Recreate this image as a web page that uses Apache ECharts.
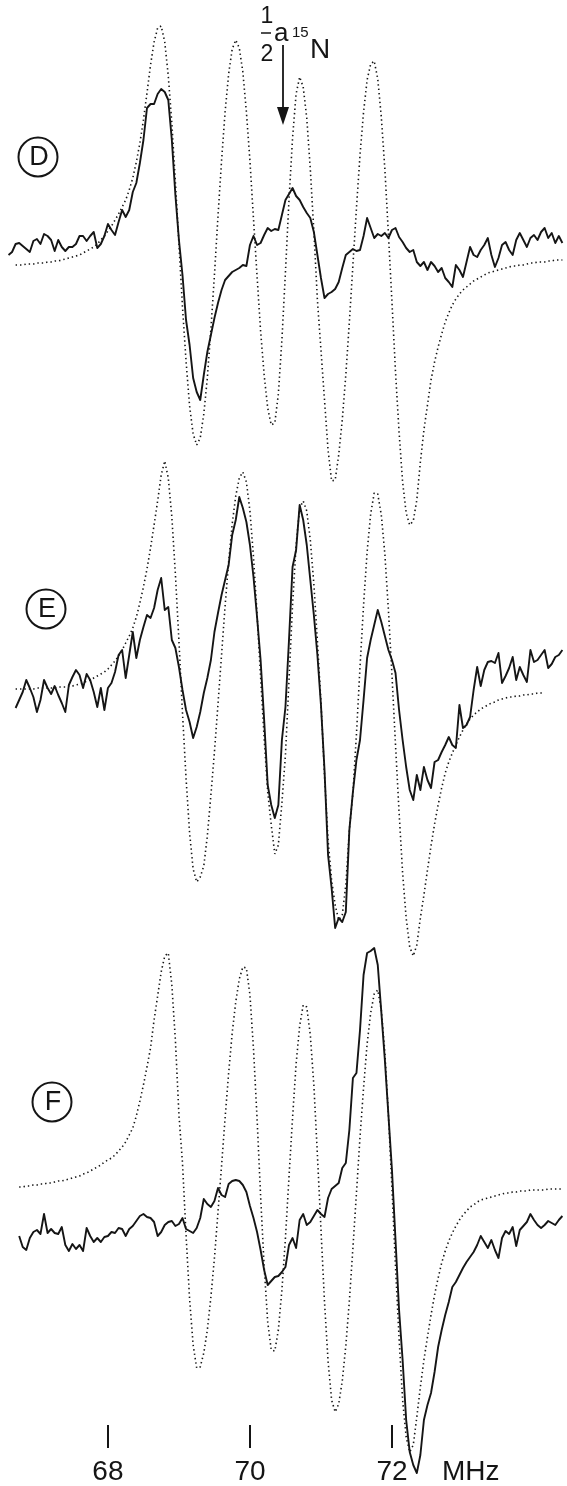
<!DOCTYPE html>
<html>
<head>
<meta charset="utf-8">
<title>ENDOR spectra D, E, F</title>
<script src="https://cdn.jsdelivr.net/npm/echarts@6.0.0/dist/echarts.min.js"></script>
<style>
html, body { margin: 0; padding: 0; background: #fff; }
#my-chart { width: 567px; height: 1486px; }
</style>
</head>
<body>
<div id="my-chart"></div>
<script>
// frequency grid in MHz (0.05 MHz steps)
var freq = [
  66.6, 66.65, 66.7, 66.75, 66.8, 66.85, 66.9, 66.95, 67, 67.05,
  67.1, 67.15, 67.2, 67.25, 67.3, 67.35, 67.4, 67.45, 67.5, 67.55,
  67.6, 67.65, 67.7, 67.75, 67.8, 67.85, 67.9, 67.95, 68, 68.05,
  68.1, 68.15, 68.2, 68.25, 68.3, 68.35, 68.4, 68.45, 68.5, 68.55,
  68.6, 68.65, 68.7, 68.75, 68.8, 68.85, 68.9, 68.95, 69, 69.05,
  69.1, 69.15, 69.2, 69.25, 69.3, 69.35, 69.4, 69.45, 69.5, 69.55,
  69.6, 69.65, 69.7, 69.75, 69.8, 69.85, 69.9, 69.95, 70, 70.05,
  70.1, 70.15, 70.2, 70.25, 70.3, 70.35, 70.4, 70.45, 70.5, 70.55,
  70.6, 70.65, 70.7, 70.75, 70.8, 70.85, 70.9, 70.95, 71, 71.05,
  71.1, 71.15, 71.2, 71.25, 71.3, 71.35, 71.4, 71.45, 71.5, 71.55,
  71.6, 71.65, 71.7, 71.75, 71.8, 71.85, 71.9, 71.95, 72, 72.05,
  72.1, 72.15, 72.2, 72.25, 72.3, 72.35, 72.4, 72.45, 72.5, 72.55,
  72.6, 72.65, 72.7, 72.75, 72.8, 72.85, 72.9, 72.95, 73, 73.05,
  73.1, 73.15, 73.2, 73.25, 73.3, 73.35, 73.4, 73.45, 73.5, 73.55,
  73.6, 73.65, 73.7, 73.75, 73.8, 73.85, 73.9, 73.95, 74, 74.05,
  74.1, 74.15, 74.2, 74.25, 74.3, 74.35, 74.4
];

// panel D: measured (solid) and simulated (dotted), arbitrary units
var solidD = [
  10, 13, 21, 22, 19, 16, 13, 24, 26, 21,
  31, 29, 25, 14, 25, 18, 14, 18, 18, 21,
  29, 29, 24, 29, 33, 17, 21, 29, 41, 35,
  30, 43, 55, 48, 55, 73, 82, 102, 125, 157,
  161, 161, 171, 176, 173, 165, 125, 70, 25, -10,
  -55, -80, -113, -127, -135, -110, -87, -70, -53, -38,
  -25, -15, -11, -7, -5, -3, 0, -1, 20, 29,
  20, 22, 30, 37, 34, 36, 35, 50, 65, 71,
  77, 69, 65, 58, 52, 47, 33, 10, -13, -33,
  -29, -27, -24, -17, -3, 10, 13, 16, 14, 15,
  29, 47, 37, 27, 31, 29, 32, 27, 35, 37,
  28, 23, 17, 13, 15, 3, -1, 3, -5, 3,
  -1, -7, -3, -13, -17, -22, 0, -5, -12, 3,
  18, 10, 8, 15, 20, 27, 10, -2, 7, 20,
  23, 15, 10, 25, 32, 25, 18, 27, 30, 25,
  33, 37, 27, 32, 22, 29, 22
];
var dottedD = [
  null, null, 0, 0, 0, 1, 1, 1, 2, 2,
  2, 3, 3, 4, 4, 5, 6, 7, 8, 9,
  10, 12, 14, 16, 18, 21, 25, 29, 34, 39,
  45, 51, 58, 65, 75, 87, 103, 122, 145, 172,
  200, 223, 237, 239, 223, 189, 142, 83, 21, -42,
  -96, -141, -169, -180, -173, -149, -113, -64, -10, 49,
  104, 153, 191, 216, 225, 217, 193, 153, 104, 46,
  -11, -66, -110, -143, -160, -158, -129, -75, -7, 65,
  127, 171, 188, 178, 147, 96, 34, -35, -85, -135,
  -185, -216, -215, -190, -155, -110, -57, 0, 57, 110,
  153, 185, 201, 204, 186, 148, 96, 31, -37, -107,
  -167, -217, -248, -260, -256, -235, -197, -165, -140, -115,
  -97, -82, -69, -57, -48, -40, -34, -29, -25, -22,
  -19, -16, -14, -12, -10, -8, -7, -6, -5, -4,
  -3, -2, -1, -1, 0, 0, 1, 2, 2, 3,
  3, 3, 4, 4, 5, 5, 5
];

// panel E
var solidE = [
  null, null, -18, -10, -2, 10, 2, -7, -22, -10,
  10, 2, -4, 4, -5, -13, -22, 5, 13, 20,
  15, 2, 16, 10, -2, -17, 2, -20, 2, 7,
  18, 35, 40, 12, 35, 58, 32, 50, 63, 75,
  72, 82, 100, 112, 80, 83, 50, 42, 23, 0,
  -20, -32, -48, -37, -22, -3, 12, 30, 58, 77,
  95, 110, 125, 155, 170, 193, 182, 168, 145, 113,
  73, 30, -30, -95, -115, -128, -115, -50, -17, 50,
  123, 140, 185, 170, 145, 110, 75, 35, -15, -80,
  -165, -198, -238, -228, -232, -222, -140, -102, -70, -50,
  -10, 32, 50, 65, 80, 68, 54, 40, 30, 17,
  -20, -50, -77, -100, -110, -85, -100, -77, -90, -98,
  -72, -70, -62, -55, -47, -55, -58, -15, -38, -35,
  -27, 0, 23, 4, 20, 28, 29, 27, 37, 7,
  14, 22, 33, 10, 23, 15, 8, 40, 28, 30,
  35, 40, 22, 26, 33, 35, 40
];
var dottedE = [
  null, null, 1, 1, 1, 1, 1, 1, 2, 2,
  2, 2, 2, 2, 3, 3, 3, 4, 4, 5,
  6, 7, 9, 10, 12, 14, 16, 18, 21, 25,
  29, 34, 40, 47, 54, 62, 73, 87, 103, 121,
  142, 165, 189, 215, 229, 212, 173, 116, 49, -23,
  -88, -143, -179, -192, -187, -176, -146, -105, -62, -14,
  35, 84, 128, 166, 194, 212, 218, 208, 179, 133,
  76, 13, -48, -102, -135, -164, -155, -113, -65, 10,
  85, 145, 182, 189, 179, 150, 106, 49, -12, -85,
  -150, -190, -215, -230, -225, -195, -140, -103, -44, 23,
  85, 138, 176, 197, 196, 175, 136, 80, 15, -55,
  -122, -183, -228, -257, -266, -255, -228, -205, -180, -156,
  -134, -115, -98, -83, -72, -63, -55, -47, -40, -34,
  -29, -25, -22, -19, -17, -15, -13, -12, -10, -9,
  -8, -7, -7, -6, -6, -5, -5, -4, -4, -3,
  -3, -2, null, null, null, null, null
];

// panel F
var solidF = [
  null, null, null, -56, -67, -70, -58, -52, -50, -54,
  -34, -53, -49, -53, -54, -47, -65, -71, -64, -69,
  -65, -71, -48, -56, -62, -58, -62, -57, -56, -52,
  -53, -48, -49, -56, -49, -46, -41, -36, -34, -37,
  -38, -42, -56, -52, -45, -42, -41, -46, -44, -38,
  -49, -51, -53, -48, -38, -19, -24, -27, -21, -8,
  -15, -17, -4, -1, 0, -1, -5, -12, -26, -38,
  -52, -70, -90, -105, -101, -97, -96, -92, -87, -65,
  -58, -68, -40, -34, -45, -42, -36, -30, -34, -37,
  -18, -9, -6, -3, 12, 17, 50, 102, 107, 150,
  205, 227, 229, 232, 215, 168, 120, 65, 10, -60,
  -130, -180, -240, -272, -285, -293, -275, -240, -225, -213,
  -192, -167, -150, -135, -122, -107, -102, -95, -88, -82,
  -77, -72, -65, -56, -62, -68, -60, -70, -78, -58,
  -51, -54, -47, -66, -50, -46, -42, -34, -40, -45,
  -48, -45, -41, -43, -45, -40, -36
];
var dottedF = [
  null, null, null, -7, -7, -6, -6, -5, -5, -4,
  -4, -3, -3, -2, -1, -1, 0, 1, 2, 3,
  4, 6, 7, 9, 11, 13, 15, 18, 20, 22,
  25, 29, 33, 38, 45, 52, 64, 79, 95, 113,
  132, 160, 184, 208, 224, 227, 195, 140, 65, 17,
  -55, -119, -165, -188, -187, -173, -150, -117, -78, -32,
  14, 62, 107, 147, 178, 201, 213, 212, 185, 131,
  62, -16, -86, -142, -170, -171, -150, -110, -58, 3,
  62, 116, 154, 175, 173, 145, 95, 25, -49, -122,
  -181, -220, -232, -224, -201, -166, -121, -68, -13, 43,
  92, 136, 167, 186, 190, 170, 128, 65, -8, -87,
  -158, -220, -257, -272, -265, -237, -207, -180, -157, -135,
  -115, -98, -83, -71, -61, -53, -46, -40, -35, -31,
  -27, -25, -22, -20, -19, -18, -17, -16, -15, -14,
  -13, -13, -12, -12, -11, -11, -11, -10, -10, -10,
  -10, -10, -9, -9, -9, -9, -9
];

var tickValues = [68, 70, 72];
var panelNames = ['D', 'E', 'F'];

var xMin = 66.48;
var xMax = 74.465;
var ink = '#151515';

function pairs(vals) {
  var out = [];
  for (var i = 0; i < freq.length; i++) {
    if (vals[i] !== null) out.push([freq[i], vals[i]]);
  }
  return out;
}

var panels = [
  { top: 0, height: 530, span: 265, solid: solidD, dotted: dottedD, cx: 38, cy: 157 },
  { top: 420, height: 540, span: 270, solid: solidE, dotted: dottedE, cx: 46, cy: 609 },
  { top: 880, height: 600, span: 300, solid: solidF, dotted: dottedF, cx: 52, cy: 1102 }
];

var grid = [], xAxis = [], yAxis = [], series = [], graphic = [];

panels.forEach(function (p, k) {
  grid.push({ left: 0, right: 0, top: p.top, height: p.height });
  xAxis.push({ type: 'value', gridIndex: k, min: xMin, max: xMax, show: false });
  yAxis.push({ type: 'value', gridIndex: k, min: -p.span, max: p.span, show: false });
  series.push({
    name: 'sim ' + panelNames[k],
    type: 'line',
    xAxisIndex: k,
    yAxisIndex: k,
    symbol: 'none',
    data: pairs(p.dotted),
    lineStyle: { color: ink, width: 1.6, type: [1.4, 3] },
    z: 2
  });
  series.push({
    name: 'exp ' + panelNames[k],
    type: 'line',
    xAxisIndex: k,
    yAxisIndex: k,
    symbol: 'none',
    data: pairs(p.solid),
    lineStyle: { color: ink, width: 1.9, join: 'round' },
    z: 3
  });
  graphic.push({
    type: 'circle',
    shape: { cx: p.cx, cy: p.cy, r: 19.5 },
    style: { fill: 'none', stroke: ink, lineWidth: 2 }
  });
  graphic.push({
    type: 'text',
    x: p.cx + 1,
    y: p.cy + 1,
    style: {
      text: panelNames[k],
      fill: ink,
      font: '27px "Liberation Sans", sans-serif',
      align: 'center',
      verticalAlign: 'middle'
    }
  });
});

// frequency axis at the bottom (only ticks + labels)
grid.push({ left: 0, right: 0, top: 1420, height: 28 });
xAxis.push({
  type: 'value',
  gridIndex: 3,
  min: xMin,
  max: xMax,
  axisLine: { show: false },
  splitLine: { show: false },
  axisTick: {
    show: true,
    inside: true,
    length: 23,
    customValues: tickValues,
    lineStyle: { color: ink, width: 2 }
  },
  axisLabel: {
    customValues: tickValues,
    margin: 10,
    color: ink,
    fontSize: 28,
    fontFamily: 'Liberation Sans'
  }
});
yAxis.push({ type: 'value', gridIndex: 3, show: false });

graphic.push({
  type: 'text',
  x: 442,
  y: 1458,
  style: { text: 'MHz', fill: ink, font: '28px "Liberation Sans", sans-serif', verticalAlign: 'top' }
});

// 1/2 a(15N) marker with arrow
var annoFont = function (size) { return size + 'px "Liberation Sans", sans-serif'; };
graphic.push(
  { type: 'text', x: 267, y: 17, style: { text: '1', fill: ink, font: annoFont(23), align: 'center', verticalAlign: 'middle' } },
  { type: 'line', shape: { x1: 261, y1: 33, x2: 271, y2: 33 }, style: { stroke: ink, lineWidth: 1.5 } },
  { type: 'text', x: 267, y: 55, style: { text: '2', fill: ink, font: annoFont(23), align: 'center', verticalAlign: 'middle' } },
  { type: 'text', x: 274, y: 34, style: { text: 'a', fill: ink, font: annoFont(26), verticalAlign: 'middle' } },
  { type: 'text', x: 292, y: 33, style: { text: '15', fill: ink, font: annoFont(15), verticalAlign: 'middle' } },
  { type: 'text', x: 310, y: 50, style: { text: 'N', fill: ink, font: annoFont(28), verticalAlign: 'middle' } },
  { type: 'line', shape: { x1: 283, y1: 45, x2: 283, y2: 112 }, style: { stroke: ink, lineWidth: 1.8 } },
  { type: 'polygon', shape: { points: [[277, 107], [289, 107], [283, 125]] }, style: { fill: ink } }
);

var myChart = echarts.init(document.getElementById('my-chart'), null, { renderer: 'canvas' });
myChart.setOption({
  animation: false,
  backgroundColor: '#fff',
  grid: grid,
  xAxis: xAxis,
  yAxis: yAxis,
  series: series,
  graphic: graphic
});
</script>
</body>
</html>
